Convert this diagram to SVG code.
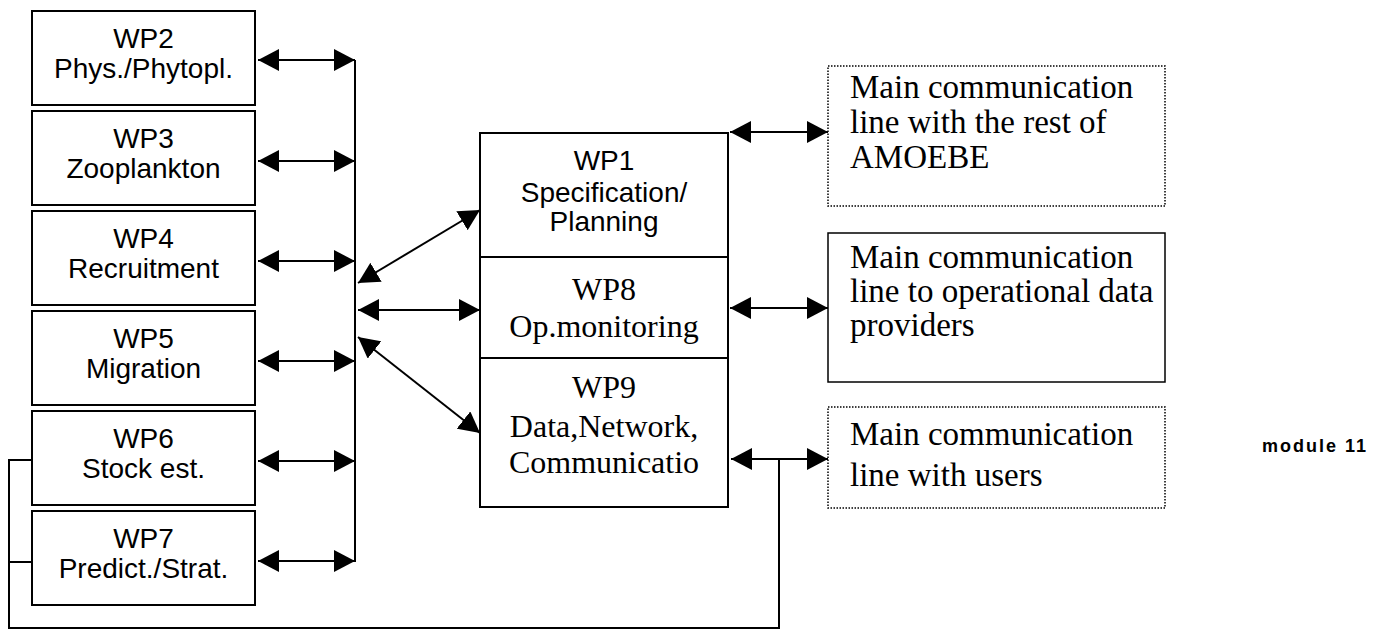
<svg xmlns="http://www.w3.org/2000/svg" width="1387" height="633" viewBox="0 0 1387 633">
  <style>
    .box { fill: #fff; stroke: #000; stroke-width: 2; }
    .note { fill: #fff; stroke: #000; stroke-width: 1.5; }
    .dotted { stroke-dasharray: 1.5 1.5; }
    .sans { font-family: "Liberation Sans", Arial, sans-serif; font-size: 28px; fill: #000; text-anchor: middle; }
    .serif { font-family: "Liberation Serif", "Times New Roman", serif; font-size: 32px; fill: #000; text-anchor: middle; }
    .serifL { font-family: "Liberation Serif", "Times New Roman", serif; font-size: 33px; fill: #000; }
    .wire { fill: none; stroke: #000; stroke-width: 2; }
    .arrow { marker-start: url(#head); marker-end: url(#head); }
    .tag { font-family: "Liberation Sans", Arial, sans-serif; font-size: 18px; font-weight: bold; letter-spacing: 2px; fill: #000; }
  </style>
  <defs>
    <marker id="head" markerUnits="userSpaceOnUse" markerWidth="22" markerHeight="22" refX="21" refY="11" orient="auto-start-reverse">
      <path d="M0,0 L21,11 L0,22 z" fill="#000"/>
    </marker>
  </defs>

  <rect width="1387" height="633" fill="#fff"/>

  <!-- work packages on the left -->
  <g id="wp2">
    <rect class="box" x="32" y="11" width="223" height="94"/>
    <text class="sans" x="143.5" y="48">WP2</text>
    <text class="sans" x="143.5" y="78">Phys./Phytopl.</text>
  </g>
  <g id="wp3">
    <rect class="box" x="32" y="111" width="223" height="94"/>
    <text class="sans" x="143.5" y="148">WP3</text>
    <text class="sans" x="143.5" y="178">Zooplankton</text>
  </g>
  <g id="wp4">
    <rect class="box" x="32" y="211" width="223" height="94"/>
    <text class="sans" x="143.5" y="248">WP4</text>
    <text class="sans" x="143.5" y="278">Recruitment</text>
  </g>
  <g id="wp5">
    <rect class="box" x="32" y="311" width="223" height="94"/>
    <text class="sans" x="143.5" y="348">WP5</text>
    <text class="sans" x="143.5" y="378">Migration</text>
  </g>
  <g id="wp6">
    <rect class="box" x="32" y="411" width="223" height="94"/>
    <text class="sans" x="143.5" y="448">WP6</text>
    <text class="sans" x="143.5" y="478">Stock est.</text>
  </g>
  <g id="wp7">
    <rect class="box" x="32" y="511" width="223" height="94"/>
    <text class="sans" x="143.5" y="548">WP7</text>
    <text class="sans" x="143.5" y="578">Predict./Strat.</text>
  </g>

  <!-- central stack -->
  <g id="wp1">
    <rect class="box" x="480" y="133" width="248" height="124"/>
    <text class="sans" x="604" y="170">WP1</text>
    <text class="sans" x="604" y="202">Specification/</text>
    <text class="sans" x="604" y="231">Planning</text>
  </g>
  <g id="wp8">
    <rect class="box" x="480" y="257" width="248" height="101"/>
    <text class="serif" x="604" y="300">WP8</text>
    <text class="serif" x="604" y="337">Op.monitoring</text>
  </g>
  <g id="wp9">
    <rect class="box" x="480" y="358" width="248" height="149"/>
    <text class="serif" x="604" y="398">WP9</text>
    <text class="serif" x="604" y="437">Data,Network,</text>
    <text class="serif" x="604" y="473">Communicatio</text>
  </g>

  <!-- communication lines on the right -->
  <g id="amoebe">
    <rect class="note dotted" x="828" y="66" width="337" height="140"/>
    <text class="serifL" x="850" y="98">Main communication</text>
    <text class="serifL" x="850" y="133">line with the rest of</text>
    <text class="serifL" x="850" y="168">AMOEBE</text>
  </g>
  <g id="providers">
    <rect class="note" x="828" y="233" width="337" height="149"/>
    <text class="serifL" x="850" y="268">Main communication</text>
    <text class="serifL" x="850" y="302">line to operational data</text>
    <text class="serifL" x="850" y="336">providers</text>
  </g>
  <g id="users">
    <rect class="note dotted" x="828" y="407" width="337" height="101"/>
    <text class="serifL" x="850" y="445">Main communication</text>
    <text class="serifL" x="850" y="486">line with users</text>
  </g>

  <g id="label">
    <text class="tag" x="1262" y="452">module 11</text>
  </g>

  <!-- connectors -->
  <g id="connectors">
    <!-- vertical bus -->
    <line class="wire" x1="355" y1="60" x2="355" y2="562"/>
    <!-- work packages to the bus -->
    <line class="wire arrow" x1="258" y1="60" x2="355" y2="60"/>
    <line class="wire arrow" x1="258" y1="161" x2="355" y2="161"/>
    <line class="wire arrow" x1="258" y1="261" x2="355" y2="261"/>
    <line class="wire arrow" x1="258" y1="361" x2="355" y2="361"/>
    <line class="wire arrow" x1="258" y1="461" x2="355" y2="461"/>
    <line class="wire arrow" x1="258" y1="561" x2="355" y2="561"/>
    <!-- bus to central stack -->
    <line class="wire arrow" x1="358" y1="283" x2="480" y2="210"/>
    <line class="wire arrow" x1="358" y1="310" x2="480" y2="310"/>
    <line class="wire arrow" x1="358" y1="337" x2="480" y2="433"/>
    <!-- central stack to the right -->
    <line class="wire arrow" x1="730" y1="132" x2="828" y2="132"/>
    <line class="wire arrow" x1="730" y1="308" x2="828" y2="308"/>
    <line class="wire arrow" x1="731" y1="459" x2="828" y2="459"/>
    <!-- return line from users to WP6 / WP7 -->
    <polyline class="wire" points="779,459 779,628 9,628 9,460 32,460"/>
    <line class="wire" x1="9" y1="562" x2="32" y2="562"/>
  </g>
</svg>
